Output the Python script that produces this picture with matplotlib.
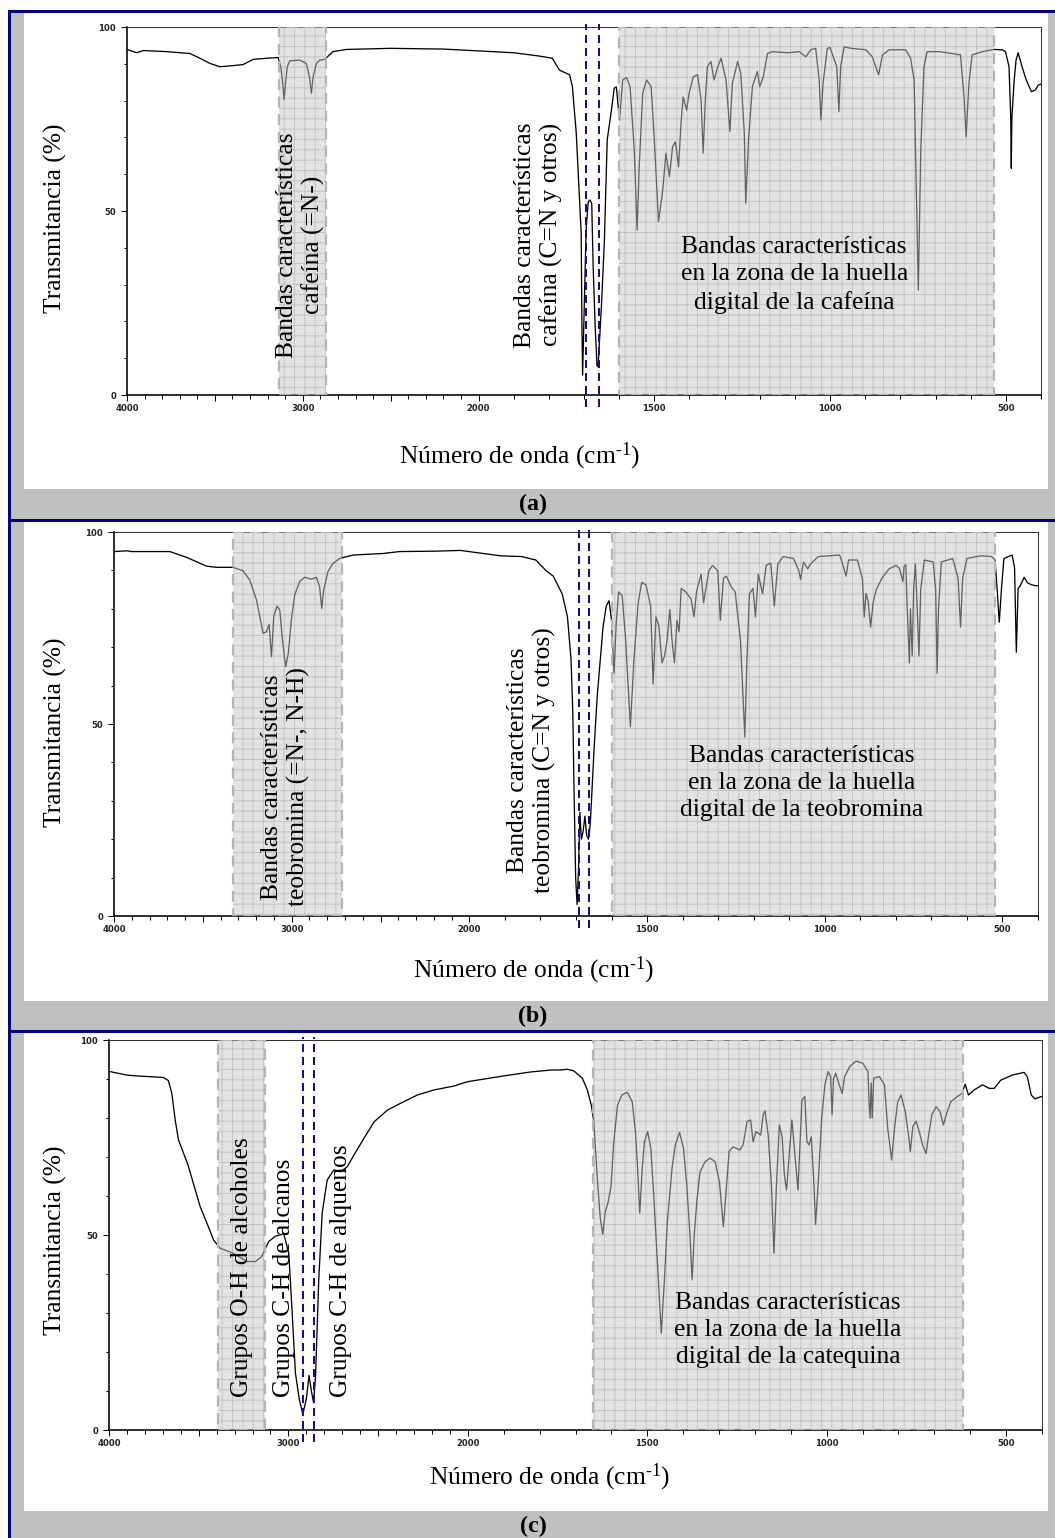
import numpy as np
import matplotlib
matplotlib.use("Agg")
import matplotlib.pyplot as plt
from matplotlib.patches import Rectangle

DPI = 124
W, H = 1055, 1538
PX = 72 / DPI          # un píxel expresado en puntos
SERIF = ["Liberation Serif", "DejaVu Serif"]

plt.rcParams["font.family"] = SERIF
plt.rcParams["mathtext.fontset"] = "custom"
plt.rcParams["mathtext.rm"] = "Liberation Serif"
plt.rcParams["mathtext.it"] = "Liberation Serif:italic"
plt.rcParams["hatch.linewidth"] = 0.55

# (a) espectro IR de la cafeína: número de onda (cm-1) y transmitancia (%)
WN_CAF = [
    4000, 3964, 3945, 3907, 3774, 3642, 3585, 3528, 3472, 3396, 3339, 3282, 3206, 3140,
    3125, 3114, 3106, 3098, 3088, 3074, 3017, 2980, 2962, 2951, 2941, 2922, 2903, 2875, 2828, 2752,
    2500, 2200, 2000, 1900, 1827, 1790, 1770, 1741, 1733, 1722, 1715, 1708, 1706, 1704,
    1699, 1694, 1688, 1683, 1678, 1674, 1668, 1663, 1660, 1650, 1642, 1634, 1622, 1614, 1608,
    1599, 1590, 1579, 1569, 1557, 1549, 1543, 1533, 1522, 1509, 1500, 1488, 1476, 1467, 1457,
    1448, 1440, 1431, 1424, 1418, 1408, 1401, 1389, 1377, 1367, 1361, 1355, 1349, 1339, 1330,
    1320, 1310, 1296, 1285, 1278, 1263, 1254, 1244, 1240, 1232, 1221, 1207, 1200, 1190, 1178,
    1164, 1120, 1088, 1069, 1055, 1041, 1031, 1026, 1020, 1008, 1000, 981, 975, 970, 960,
    940, 898, 880, 862, 851, 832, 785, 771, 761, 757, 749, 742, 733, 724, 690,
    653, 629, 619, 613, 605, 596, 567, 534, 510, 501, 491, 486, 484.5, 483, 477,
    471, 465, 454, 442, 427, 416, 408, 400]
T_CAF = [
    93.9, 93.3, 93.0, 93.6, 93.3, 92.8, 91.5, 90.1, 89.2, 89.5, 89.8, 91.2, 91.5, 91.7,
    89.2, 84.7, 80.3, 84.7, 89.2, 90.8, 91.0, 90.1, 86.5, 82.0, 86.5, 90.1, 91.0, 91.2, 93.3, 93.9,
    94.2, 94.0, 93.5, 93.0, 92.1, 91.5, 88.3, 87.0, 83.8, 71.1, 57.5, 43.9, 20.0, 5.4,
    25.0, 45.0, 52.5, 53.0, 52.0, 35.0, 18.0, 8.0, 7.7, 25.0, 42.0, 69.3, 77.4, 83.4, 83.7,
    74.7, 85.6, 86.3, 83.8, 66.6, 44.8, 62.0, 82.0, 85.6, 83.8, 69.3, 47.1, 55.7, 65.7, 59.3,
    67.5, 68.8, 62.0, 73.8, 81.0, 77.4, 82.0, 86.5, 87.0, 80.2, 65.7, 80.2, 89.2, 90.6, 85.6,
    89.0, 91.5, 85.6, 71.6, 84.7, 90.6, 87.4, 71.1, 52.1, 69.3, 83.8, 87.9, 83.8, 86.5, 92.8,
    93.3, 93.0, 93.3, 91.9, 93.8, 94.2, 85.6, 74.7, 84.7, 94.2, 94.4, 89.2, 77.0, 89.2, 94.6,
    94.2, 93.8, 91.9, 87.0, 92.4, 93.8, 93.8, 91.5, 85.6, 66.6, 28.5, 66.6, 89.2, 93.3, 93.3,
    92.8, 92.4, 81.0, 70.2, 84.7, 92.4, 93.3, 93.9, 93.8, 93.3, 89.2, 75.0, 61.6, 75.0, 84.7,
    91.0, 93.0, 89.2, 85.6, 82.4, 82.9, 84.2, 84.5]

# (b) espectro IR de la teobromina
WN_TEO = [
    4000, 3929, 3900, 3685, 3592, 3479, 3423, 3330, 3274, 3236, 3198, 3161, 3142, 3127, 3114,
    3101, 3083, 3067, 3052, 3034, 3019, 3002, 2983, 2955, 2927, 2889, 2861, 2843, 2831, 2820,
    2796, 2768, 2730, 2655, 2487, 2393, 2200, 2050, 1913, 1853, 1813, 1784, 1764, 1739, 1724,
    1714, 1709, 1705, 1701, 1697, 1693, 1689, 1685, 1680, 1675, 1670, 1665, 1662, 1659, 1649,
    1640, 1630, 1624, 1615, 1607, 1600, 1593, 1587, 1580, 1570, 1560, 1547, 1537, 1525, 1515,
    1503, 1490, 1483, 1475, 1467, 1458, 1451, 1444, 1436, 1430, 1423, 1416, 1410, 1404, 1391,
    1376, 1368, 1361, 1348, 1341, 1335, 1326, 1316, 1301, 1294, 1285, 1277, 1262, 1252, 1237,
    1225, 1219, 1212, 1202, 1195, 1187, 1175, 1165, 1152, 1142, 1132, 1117, 1088, 1073, 1068,
    1060, 1048, 1040, 1018, 958, 947, 940, 933, 908, 894, 889, 884, 878, 871, 864,
    855, 839, 819, 799, 790, 780, 777, 772, 768, 762, 759, 754, 750, 745, 742,
    735, 730, 720, 695, 688, 684, 680, 672, 640, 625, 618, 612, 600, 561, 531,
    521, 515, 509, 503, 496, 473, 466, 461, 456, 450, 439, 429, 416, 406, 400]
T_TEO = [
    94.9, 95.1, 94.9, 94.9, 93.4, 91.1, 90.8, 90.8, 89.9, 87.5, 82.3, 73.6, 74.0, 76.0, 67.5,
    77.9, 80.7, 79.7, 71.9, 64.9, 68.4, 77.1, 83.6, 87.1, 88.2, 87.7, 88.2, 85.8, 80.1, 84.9,
    89.7, 91.8, 93.1, 94.0, 94.4, 94.9, 95.0, 95.2, 93.8, 93.6, 92.7, 89.9, 88.5, 83.9, 77.9,
    66.8, 53.0, 30.0, 10.0, 3.0, 12.0, 27.0, 20.0, 22.0, 26.0, 21.0, 20.0, 22.0, 25.4, 43.8,
    57.6, 68.7, 75.2, 80.7, 82.1, 77.0, 63.2, 76.0, 84.4, 83.4, 71.5, 49.3, 66.8, 81.6, 86.9,
    86.2, 80.7, 60.4, 77.9, 75.6, 65.9, 67.7, 71.5, 79.8, 72.0, 65.9, 77.0, 74.0, 85.3, 84.4,
    82.5, 77.9, 84.4, 89.0, 81.6, 85.0, 89.9, 91.3, 89.9, 77.0, 88.0, 88.5, 85.5, 84.4, 71.5,
    46.6, 66.8, 83.9, 85.3, 77.9, 89.0, 83.9, 91.3, 91.9, 80.7, 91.7, 93.6, 93.1, 89.9, 87.6,
    92.2, 90.4, 91.7, 93.6, 94.0, 90.8, 88.5, 92.7, 92.7, 87.8, 77.9, 84.0, 82.0, 75.2, 81.6,
    85.0, 88.0, 90.4, 91.3, 90.5, 87.1, 91.0, 91.5, 80.0, 65.9, 80.0, 67.7, 85.0, 91.7, 85.0,
    67.7, 85.0, 92.7, 92.2, 85.0, 63.2, 80.0, 92.2, 93.1, 88.0, 75.2, 88.0, 93.1, 93.8, 93.6,
    92.7, 85.0, 76.5, 85.0, 93.1, 94.0, 90.8, 68.7, 85.3, 86.0, 88.2, 86.7, 86.2, 86.0, 86.0]

# (c) espectro IR de la catequina
WN_CAT = [
    4000, 3994, 3901, 3850, 3697, 3669, 3650, 3631, 3613, 3560, 3492, 3454, 3417, 3380, 3306,
    3231, 3184, 3150, 3110, 3073, 3026, 2998, 2979, 2961, 2940, 2920, 2900, 2885, 2872, 2860,
    2849, 2831, 2812, 2784, 2747, 2710, 2672, 2635, 2579, 2523, 2449, 2374, 2281, 2188, 2077,
    2003, 1900, 1825, 1769, 1742, 1723, 1705, 1681, 1667, 1656, 1649, 1644, 1638, 1631, 1624,
    1617, 1610, 1601, 1594, 1583, 1571, 1556, 1542, 1533, 1527, 1521, 1514, 1508, 1499, 1490,
    1481, 1471, 1461, 1453, 1444, 1431, 1422, 1410, 1399, 1390, 1381, 1375, 1369, 1362, 1353,
    1339, 1325, 1311, 1299, 1288, 1281, 1272, 1261, 1242, 1233, 1222, 1212, 1205, 1197, 1190,
    1184, 1177, 1172, 1163, 1154, 1147, 1140, 1132, 1124, 1118, 1112, 1105, 1097, 1090, 1080,
    1075, 1069, 1061, 1055, 1049, 1043, 1036, 1031, 1024, 1014, 1005, 996, 989, 985, 981,
    975, 965, 957, 950, 936, 918, 899, 885, 882, 879, 876, 873, 869, 853, 839,
    830, 819, 811, 802, 793, 781, 772, 767, 760, 751, 742, 733, 723, 716, 707,
    695, 684, 675, 667, 654, 636, 623, 614, 605, 589, 566, 547, 533, 515, 483,
    450, 441, 430, 420, 402, 400]
T_CAT = [
    92.0, 91.9, 91.0, 90.8, 90.4, 89.6, 86.3, 79.5, 74.4, 68.0, 57.3, 53.0, 48.7, 46.6, 45.3,
    43.2, 43.2, 44.4, 48.3, 49.7, 50.3, 45.3, 30.0, 14.6, 8.0, 4.0, 8.0, 14.0, 10.0, 7.0,
    13.7, 38.5, 55.6, 64.1, 66.7, 66.2, 67.5, 70.5, 74.8, 79.0, 82.0, 83.8, 85.9, 87.2, 88.2,
    89.3, 90.8, 91.8, 92.3, 92.3, 92.5, 92.1, 90.2, 87.2, 83.3, 79.1, 71.4, 62.8, 54.3, 50.2,
    56.0, 58.1, 62.4, 73.1, 83.3, 85.9, 86.6, 84.2, 76.5, 67.1, 55.6, 67.1, 73.9, 76.5, 72.2,
    58.5, 41.5, 24.8, 37.2, 53.4, 67.1, 73.1, 76.3, 72.2, 62.8, 50.0, 38.5, 50.0, 58.5, 66.2,
    68.8, 69.7, 68.8, 63.7, 52.1, 60.3, 71.4, 72.6, 71.8, 73.1, 79.1, 79.5, 73.9, 76.5, 76.0,
    75.6, 80.8, 81.8, 75.6, 62.8, 45.3, 62.8, 78.2, 75.0, 65.4, 61.5, 70.0, 79.5, 72.0, 61.5,
    72.0, 84.6, 85.5, 73.9, 73.1, 75.2, 63.7, 52.7, 62.8, 79.9, 88.5, 91.9, 90.6, 80.8, 90.0,
    91.5, 88.5, 86.3, 90.6, 93.2, 94.6, 94.0, 91.9, 84.0, 79.9, 89.0, 80.0, 90.2, 90.6, 88.5,
    77.4, 69.2, 77.4, 84.2, 85.9, 81.6, 75.6, 71.4, 77.8, 79.2, 76.5, 73.1, 70.9, 75.6, 80.8,
    82.9, 81.6, 78.2, 80.8, 84.2, 85.5, 86.3, 88.7, 85.9, 87.2, 88.5, 87.6, 87.6, 89.7, 91.0,
    91.7, 90.6, 85.9, 84.9, 85.5, 85.5]

# zonas sombreadas (cm-1) y líneas de referencia
BANDAS_CAF = [(2870, 3135), (535, 1600)]
LINEAS_CAF = [1695, 1658]
BANDAS_TEO = [(2715, 3330), (520, 1600)]
LINEAS_TEO = [1692, 1663]
BANDAS_CAT = [(3130, 3395), (620, 1650)]
LINEAS_CAT = [2918, 2856]

# ejes: marcas
XT_MAJ = [4000, 3500, 3000, 2500, 2000, 1500, 1000, 500]
XT_LAB = ["4000", "", "3000", "", "2000", "1500", "1000", "500"]
XT_MIN = [w for w in range(400, 4001, 100) if w not in XT_MAJ]
YT_MAJ = [0, 50, 100]
YT_LAB = ["0", "50", "100"]
YT_MIN = list(range(0, 101, 10))


# escala de IR: por debajo de 2000 cm-1 el eje se expande al doble
def fwd(w):
    w = np.asarray(w, dtype=float)
    return np.where(w >= 2000, w, 2 * w - 2000)


def inv(u):
    u = np.asarray(u, dtype=float)
    return np.where(u >= 2000, u, (u + 2000) / 2)


fig = plt.figure(figsize=((W + 0.01) / DPI, (H + 0.01) / DPI), dpi=DPI)
fig.patch.set_facecolor("white")


def rect_px(x0, y0, x1, y1, color):
    fig.add_artist(Rectangle((x0 / W, 1 - y1 / H), (x1 - x0) / W, (y1 - y0) / H,
                             transform=fig.transFigure, facecolor=color,
                             edgecolor="none", zorder=-1))


# marco gris y azul alrededor de los tres paneles
GRIS = "#c0c0c0"
AZUL = "#000080"
rect_px(11, 13, 24, H, GRIS)
rect_px(1048, 13, W, H, GRIS)
rect_px(11, 489, W, 519, GRIS)
rect_px(11, 1001, W, 1030, GRIS)
rect_px(11, 1511, W, H, GRIS)
rect_px(8, 10, W, 13, AZUL)
rect_px(8, 10, 11, H, AZUL)
rect_px(8, 519, W, 522, AZUL)
rect_px(8, 1030, W, 1033, AZUL)

TXT = 25.5 * PX


def panel(box, wn, tr, bandas, lineas, notas, xlab, ylab_y, tag, tag_y):
    l, r, t, b = box
    ax = fig.add_axes([l / W, 1 - b / H, (r - l) / W, (b - t) / H])
    ax.set_xscale("function", functions=(fwd, inv))
    ax.set_xlim(4000, 400)
    ax.set_ylim(0, 100)

    ax.plot(wn, tr, color="black", lw=1.3 * PX, zorder=2)

    for x0, x1 in bandas:
        ax.axvspan(x0, x1, facecolor="none", edgecolor="#c2c2c2", hatch="++",
                   lw=0, zorder=1.5)
        ax.axvspan(x0, x1, facecolor="#c6c6c6", alpha=0.5, lw=0, zorder=3)
        ax.axvspan(x0, x1, fill=False, edgecolor="#b4b4b4", lw=2.2 * PX,
                   ls=(0, (5, 3)), zorder=3.5)

    span = b - t
    for x in lineas:
        ax.axvline(x, ymin=-12 / span, ymax=1 + 3 / span, color="#10108a",
                   lw=2.0 * PX, ls=(0, (4, 2.5)), clip_on=False, zorder=5)

    for x, y, s, rot, va in notas:
        ax.text(x, y, s, rotation=rot, ha="center", va=va, multialignment="center",
                fontsize=TXT, linespacing=1.2 if rot else 1.3, zorder=6)

    for s in ax.spines.values():
        s.set_linewidth(1.0 * PX)
        s.set_color("#303030")
    ax.spines["left"].set_linewidth(1.6 * PX)
    ax.spines["bottom"].set_linewidth(1.6 * PX)
    ax.spines["left"].set_color("black")
    ax.spines["bottom"].set_color("black")

    tick_font = dict(fontsize=8.5 * PX, fontfamily="DejaVu Sans",
                     fontweight="bold", color="#222222")
    ax.set_xticks(XT_MAJ, XT_LAB, **tick_font)
    ax.set_xticks(XT_MIN, minor=True)
    ax.set_yticks(YT_MAJ, YT_LAB, **tick_font)
    ax.set_yticks(YT_MIN, minor=True)
    ax.tick_params(which="major", direction="out", length=6 * PX, width=1 * PX)
    ax.tick_params(which="minor", direction="out", length=3.5 * PX, width=1 * PX)
    ax.tick_params(axis="x", pad=2.5 * PX)
    ax.tick_params(axis="y", pad=5 * PX)

    fig.text(xlab[0] / W, 1 - xlab[1] / H, "Número de onda (cm$^{\\text{-}1}$)",
             ha="center", va="center", fontsize=TXT)
    fig.text(55 / W, 1 - ylab_y / H, "Transmitancia (%)", rotation=90,
             ha="center", va="center", fontsize=TXT)
    fig.text(533 / W, 1 - tag_y / H, tag, ha="center", va="center",
             fontsize=24 * PX, fontweight="bold")
    return ax


panel((127, 1041, 27, 395), WN_CAF, T_CAF, BANDAS_CAF, LINEAS_CAF,
      [(3011, 40.8, "Bandas características\ncafeína (=N-)", 90, "center"),
       (1830, 43.5, "Bandas características\ncafeína (C=N y otros)", 90, "center"),
       (1102, 32.6, "Bandas características\nen la zona de la huella\ndigital de la cafeína", 0, "center")],
      (520, 456), 218, "(a)", 504)

panel((114, 1038, 532, 916), WN_TEO, T_TEO, BANDAS_TEO, LINEAS_TEO,
      [(3034, 33.6, "Bandas características\nteobromina (=N-, N-H)", 90, "center"),
       (1826, 40.5, "Bandas características\nteobromina (C=N y otros)", 90, "center"),
       (1065, 34.6, "Bandas características\nen la zona de la huella\ndigital de la teobromina", 0, "center")],
      (534, 970), 732, "(b)", 1016)

panel((109, 1042, 1040, 1430), WN_CAT, T_CAT, BANDAS_CAT, LINEAS_CAT,
      [(3256, 8.5, "Grupos O-H de alcoholes", 90, "bottom"),
       (3022, 8.5, "Grupos C-H de alcanos", 90, "bottom"),
       (2706, 8.5, "Grupos C-H de alquenos", 90, "bottom"),
       (1108, 25.6, "Bandas características\nen la zona de la huella\ndigital de la catequina", 0, "center")],
      (550, 1477), 1240, "(c)", 1526)

fig.savefig("out.png", dpi=DPI)
